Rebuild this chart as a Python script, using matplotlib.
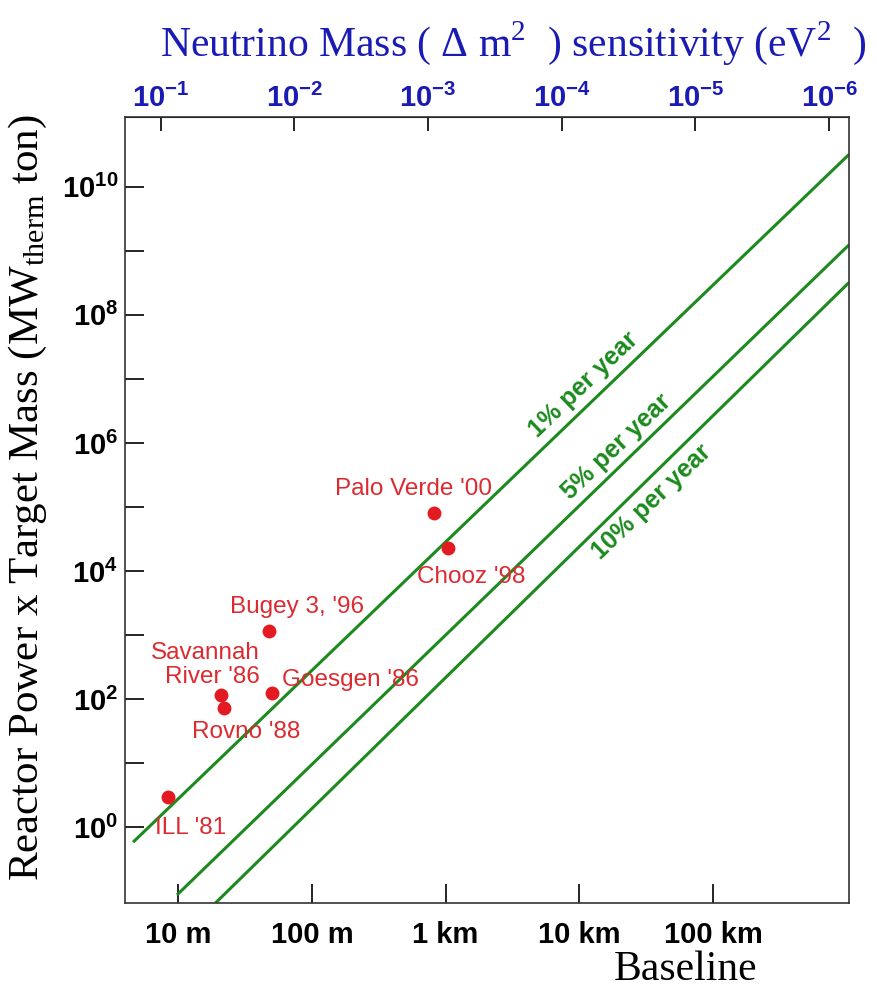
import numpy as np
import matplotlib
matplotlib.use('Agg')
import matplotlib.pyplot as plt
from matplotlib.ticker import FixedLocator, FixedFormatter, NullLocator

# Reactor experiments: baseline (m) vs reactor power x target mass (MW_therm ton)
experiments = ['ILL \'81', 'Savannah\nRiver \'86', 'Rovno \'88', 'Bugey 3, \'96',
               'Goesgen \'86', 'Palo Verde \'00', 'Chooz \'98']
baseline_m = [8.4, 20.8, 22.0, 48.0, 50.5, 820.0, 1045.0]
power_mass = [2.9, 115.0, 72.0, 1150.0, 124.0, 8.1e4, 2.3e4]

# sensitivity lines (endpoints)
line_labels = ['1% per year', '5% per year', '10% per year']
line_L_start = [4.6, 9.8, 19.0]
line_L_end = [1.04e6, 1.04e6, 1.04e6]
line_P_start = [0.58, 0.087, 0.065]
line_P_end = [3.2e10, 1.24e9, 3.2e8]
line_label_L = [1.07e4, 1.91e4, 3.49e4]
line_label_P = [8.0e6, 8.7e5, 1.2e5]

# axis ticks
baseline_ticks = [10, 100, 1e3, 1e4, 1e5]
baseline_ticklabels = ['10 m', '100 m', '1 km', '10 km', '100 km']
dm2_ticks = [1e-1, 1e-2, 1e-3, 1e-4, 1e-5, 1e-6]
dm2_ticklabels = [r'$\mathbf{10^{-1}}$', r'$\mathbf{10^{-2}}$', r'$\mathbf{10^{-3}}$',
                  r'$\mathbf{10^{-4}}$', r'$\mathbf{10^{-5}}$', r'$\mathbf{10^{-6}}$']
power_ticks = [10.0 ** k for k in range(0, 11)]
power_ticklabels = [r'$\mathbf{10^{%d}}$' % k if k % 2 == 0 else '' for k in range(0, 11)]

# dm2 * L roughly constant (eV^2 m)
DM2_L = 0.74

# label offsets (points) relative to each dot
label_dx = [-9.4, 28.0, -23, -28, 7.2, -71.3, -22.3]
label_dy = [-22.3, 21.6, -17.3, 17.3, 9.4, 17.3, -20.9]
label_ha = ['left', 'right', 'left', 'left', 'left', 'left', 'left']

plt.rcParams['mathtext.fontset'] = 'custom'
plt.rcParams['mathtext.rm'] = 'Liberation Serif'
plt.rcParams['mathtext.bf'] = 'Liberation Sans:bold'

green = '#1c8a1f'
red = '#e41a22'
label_red = '#dc2a30'
blue = '#1a1ab4'

fig = plt.figure(figsize=(8.77, 9.93), dpi=100)
ax = fig.add_axes([0.1425, 0.0906, 0.8255, 0.7915])
ax.set_xscale('log')
ax.set_yscale('log')
ax.set_xlim(4.0, 1.04e6)
ax.set_ylim(0.065, 1.23e11)

for i in range(len(line_labels)):
    ax.plot([line_L_start[i], line_L_end[i]], [line_P_start[i], line_P_end[i]],
            color=green, lw=2.2, solid_capstyle='butt')
    ax.text(line_label_L[i], line_label_P[i], line_labels[i], color=green,
            fontsize=18, fontweight='bold', family='Liberation Sans',
            rotation=43.7, rotation_mode='anchor', ha='center', va='center')

ax.scatter(baseline_m, power_mass, s=100, color=red, zorder=3, linewidths=0)
for i, name in enumerate(experiments):
    ax.annotate(name, (baseline_m[i], power_mass[i]), xytext=(label_dx[i], label_dy[i]),
                textcoords='offset points', ha=label_ha[i], va='center',
                color=label_red, fontsize=17.5, family='Liberation Sans',
                multialignment=label_ha[i], linespacing=1.1)

ax.xaxis.set_major_locator(FixedLocator(baseline_ticks))
ax.xaxis.set_major_formatter(FixedFormatter(baseline_ticklabels))
ax.xaxis.set_minor_locator(NullLocator())
ax.yaxis.set_major_locator(FixedLocator(power_ticks))
ax.yaxis.set_major_formatter(FixedFormatter(power_ticklabels))
ax.yaxis.set_minor_locator(NullLocator())
ax.tick_params(axis='x', direction='in', length=14, width=1.2, pad=13,
               top=False, labelsize=21)
ax.tick_params(axis='y', direction='in', length=14, width=1.2, pad=5,
               right=False, labelsize=21)
for lab in ax.get_xticklabels():
    lab.set_fontweight('bold')
    lab.set_family('Liberation Sans')
for sp in ax.spines.values():
    sp.set_linewidth(1.2)
    sp.set_color('#333333')


def to_dm2(x):
    x = np.asarray(x, dtype=float)
    with np.errstate(divide='ignore'):
        return DM2_L / np.where(x == 0, 1e-30, x)


top = ax.secondary_xaxis('top', functions=(to_dm2, to_dm2))
top.xaxis.set_major_locator(FixedLocator(dm2_ticks))
top.xaxis.set_major_formatter(FixedFormatter(dm2_ticklabels))
top.xaxis.set_minor_locator(NullLocator())
top.tick_params(direction='in', length=10, width=1.2, pad=3, labelsize=21,
                labelcolor=blue)

fig.text(160 / 877, 1 - 43 / 993, 'Neutrino Mass ( \u0394 m$^{2}$  ) sensitivity (eV$^{2}$  )',
         color=blue, fontsize=30, family='Liberation Serif', ha='left', va='center')
fig.text(686 / 877, 1 - 970 / 993, 'Baseline', fontsize=30, family='Liberation Serif',
         ha='center', va='center')
fig.text(28 / 877, 1 - 498 / 993, 'Reactor Power x Target Mass (MW$_{\\rm therm}$ ton)',
         fontsize=31, family='Liberation Serif', rotation=90, ha='center', va='center')

fig.savefig('out.png', dpi=100)
